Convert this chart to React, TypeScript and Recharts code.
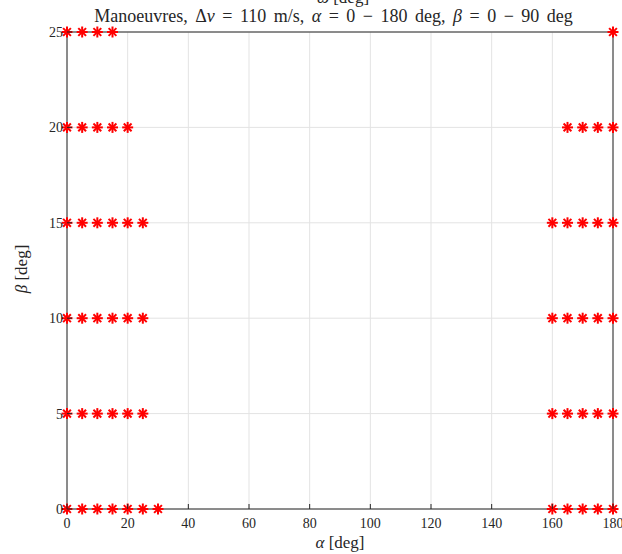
import React from 'react';
import { ScatterChart, Scatter, XAxis, YAxis, CartesianGrid } from 'recharts';

const xTicks = [0, 20, 40, 60, 80, 100, 120, 140, 160, 180];
const yTicks = [0, 5, 10, 15, 20, 25];

const betaLevels = [0, 5, 10, 15, 20, 25];
const alphaAtBeta0 = [0, 5, 10, 15, 20, 25, 30, 160, 165, 170, 175, 180];
const alphaAtBeta5 = [0, 5, 10, 15, 20, 25, 160, 165, 170, 175, 180];
const alphaAtBeta10 = [0, 5, 10, 15, 20, 25, 160, 165, 170, 175, 180];
const alphaAtBeta15 = [0, 5, 10, 15, 20, 25, 160, 165, 170, 175, 180];
const alphaAtBeta20 = [0, 5, 10, 15, 20, 165, 170, 175, 180];
const alphaAtBeta25 = [0, 5, 10, 15, 180];

const alphaLists = [alphaAtBeta0, alphaAtBeta5, alphaAtBeta10, alphaAtBeta15, alphaAtBeta20, alphaAtBeta25];
const points = betaLevels.flatMap((b, i) => alphaLists[i].map((a) => ({ alpha: a, beta: b })));

const FONT = '"Liberation Serif", "DejaVu Serif", serif';
const AX = '#262626';
const W = 622;
const H = 554;
const M = { top: 31, right: 8, bottom: 15, left: 27 };

const Star = (props: any) => {
  const { cx, cy } = props;
  const r = 5.5;
  const d = r * Math.SQRT1_2;
  return (
    <g stroke="#ff0000" strokeWidth={2} strokeLinecap="butt">
      <line x1={cx - r} y1={cy} x2={cx + r} y2={cy} />
      <line x1={cx} y1={cy - r} x2={cx} y2={cy + r} />
      <line x1={cx - d} y1={cy - d} x2={cx + d} y2={cy + d} />
      <line x1={cx - d} y1={cy + d} x2={cx + d} y2={cy - d} />
    </g>
  );
};

const BottomTick = (props: any) => {
  const { x, y, payload } = props;
  return (
    <g>
      <line x1={x} y1={y} x2={x} y2={y - 5} stroke={AX} strokeWidth={1} />
      <text x={x} y={y + 19} textAnchor="middle" fontFamily={FONT} fontSize={14} fill={AX}>
        {payload.value}
      </text>
    </g>
  );
};
const TopTick = (props: any) => {
  const { x, y } = props;
  return <line x1={x} y1={y} x2={x} y2={y + 5} stroke={AX} strokeWidth={1} />;
};
const LeftTick = (props: any) => {
  const { x, y, payload } = props;
  return (
    <g>
      <line x1={x} y1={y} x2={x + 5} y2={y} stroke={AX} strokeWidth={1} />
      <text x={x - 4} y={y + 5} textAnchor="end" fontFamily={FONT} fontSize={14} fill={AX}>
        {payload.value}
      </text>
    </g>
  );
};
const RightTick = (props: any) => {
  const { x, y } = props;
  return <line x1={x} y1={y} x2={x - 5} y2={y} stroke={AX} strokeWidth={1} />;
};

export default function App() {
  return (
    <div style={{ position: 'absolute', left: 0, top: 0, width: W, height: H, background: '#fff', overflow: 'hidden' }}>
      <ScatterChart width={W} height={H} margin={M}>
        <CartesianGrid stroke="#e3e3e3" strokeWidth={1} />
        <XAxis
          type="number"
          dataKey="alpha"
          domain={[0, 180]}
          ticks={xTicks}
          height={30}
          tickSize={0}
          tickMargin={0}
          tickLine={false}
          stroke={AX}
          tick={BottomTick}
          interval={0}
        />
        <XAxis
          xAxisId="t"
          orientation="top"
          type="number"
          dataKey="alpha"
          domain={[0, 180]}
          ticks={xTicks}
          height={1}
          tickSize={0}
          tickMargin={0}
          tickLine={false}
          stroke={AX}
          tick={TopTick}
          interval={0}
        />
        <YAxis
          type="number"
          dataKey="beta"
          domain={[0, 25]}
          ticks={yTicks}
          width={40}
          tickSize={0}
          tickMargin={0}
          tickLine={false}
          stroke={AX}
          tick={LeftTick}
          interval={0}
        />
        <YAxis
          yAxisId="r"
          orientation="right"
          type="number"
          dataKey="beta"
          domain={[0, 25]}
          ticks={yTicks}
          width={1}
          tickSize={0}
          tickMargin={0}
          tickLine={false}
          stroke={AX}
          tick={RightTick}
          interval={0}
        />
        <Scatter data={points} fill="#ff0000" shape={Star} isAnimationActive={false} />
      </ScatterChart>
      <div style={{ position: 'absolute', left: 0, top: -12, width: 686, textAlign: 'center', fontFamily: FONT, fontSize: 17, color: AX, whiteSpace: 'nowrap' }}>
        <i>ω</i> [deg]
      </div>
      <div style={{ position: 'absolute', left: 0, top: 6, width: 667, textAlign: 'center', fontFamily: FONT, fontSize: 18, wordSpacing: '3px', color: AX, whiteSpace: 'nowrap' }}>
        Manoeuvres, Δ<i>v</i> = 110 m/s, <i>α</i> = 0 − 180 deg, <i>β</i> = 0 − 90 deg
      </div>
      <div style={{ position: 'absolute', left: 0, top: 533, width: 680, textAlign: 'center', fontFamily: FONT, fontSize: 17, color: AX, whiteSpace: 'nowrap' }}>
        <i>α</i> [deg]
      </div>
      <div style={{ position: 'absolute', left: 22, top: 269, transform: 'translate(-50%, -50%) rotate(-90deg)', fontFamily: FONT, fontSize: 17, color: AX, whiteSpace: 'nowrap' }}>
        <i>β</i> [deg]
      </div>
    </div>
  );
}
